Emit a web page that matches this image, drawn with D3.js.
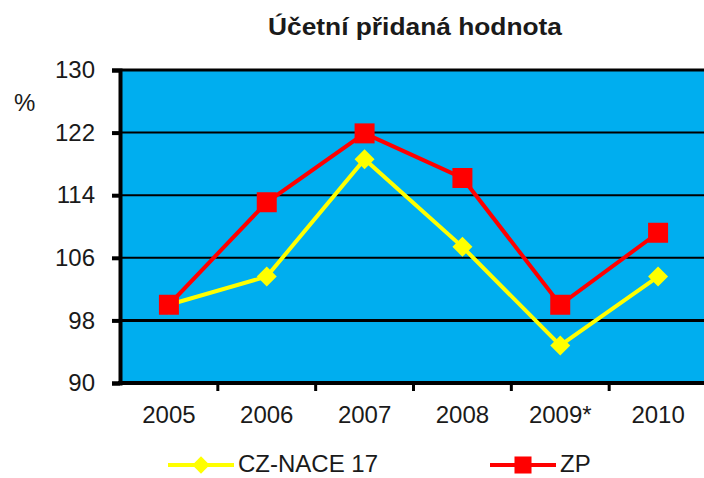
<!DOCTYPE html>
<html>
<head>
<meta charset="utf-8">
<script src="https://cdn.jsdelivr.net/npm/d3@7"></script>
<style>
  body { margin: 0; background: #fff; }
  text { font-family: "Liberation Sans", Arial, sans-serif; fill: #1a1a1a; }
</style>
</head>
<body>
<svg id="chart"></svg>
<script>
const years = ["2005", "2006", "2007", "2008", "2009*", "2010"];
const czNace = [100.0, 103.6, 118.6, 107.4, 94.8, 103.6];
const zp = [100.0, 113.1, 121.9, 116.2, 100.0, 109.2];
const yTicks = [90, 98, 106, 114, 122, 130];

let svg = d3.select("svg#chart")
  .attr("width", 704)
  .attr("height", 478);

const plotLeft = 120, plotRight = 707, plotTop = 70, plotBottom = 383;

const x = d3.scaleBand().domain(years).range([plotLeft, plotRight]);
const y = d3.scaleLinear().domain([90, 130]).range([plotBottom, plotTop]);

// plot background
svg.append("rect").attr("x", plotLeft).attr("y", plotTop)
  .attr("width", plotRight - plotLeft).attr("height", plotBottom - plotTop)
  .attr("fill", "#00AEEF");

// gridlines
svg.append("g").selectAll("line").data(yTicks.filter(d => d > 90)).join("line")
  .attr("x1", plotLeft).attr("x2", plotRight)
  .attr("y1", d => y(d)).attr("y2", d => y(d))
  .attr("stroke", "#000")
  .attr("stroke-width", d => d === 98 ? 3 : (d === 130 ? 3 : 2));

// y axis
const yAxis = svg.append("g").attr("transform", `translate(${plotLeft},0)`)
  .call(d3.axisLeft(y).tickValues(yTicks).tickSize(8).tickPadding(17));
yAxis.select(".domain").attr("stroke", "#000").attr("stroke-width", 4);
yAxis.selectAll(".tick line").attr("stroke", "#000").attr("stroke-width", 4);
yAxis.selectAll(".tick text").attr("font-size", 24).attr("font-family", "Liberation Sans, Arial, sans-serif").attr("fill", "#1a1a1a");

// x axis
const xAxis = svg.append("g").attr("transform", `translate(0,${plotBottom})`)
  .call(d3.axisBottom(x).tickSize(0).tickPadding(23));
xAxis.select(".domain").remove();
xAxis.selectAll(".tick text").attr("font-size", 24).attr("font-family", "Liberation Sans, Arial, sans-serif").attr("fill", "#1a1a1a");
svg.append("line").attr("x1", plotLeft - 2).attr("x2", plotRight).attr("y1", plotBottom).attr("y2", plotBottom)
  .attr("stroke", "#000").attr("stroke-width", 4);
svg.append("g").selectAll("line").data(years.slice(1)).join("line")
  .attr("x1", d => x(d)).attr("x2", d => x(d))
  .attr("y1", plotBottom).attr("y2", plotBottom + 8)
  .attr("stroke", "#000").attr("stroke-width", 3);

const line = d3.line().x((d, i) => x(years[i]) + x.bandwidth() / 2).y(d => y(d));

// CZ-NACE 17
svg.append("path").datum(czNace).attr("d", line)
  .attr("fill", "none").attr("stroke", "#FFFF00").attr("stroke-width", 4);
svg.append("g").selectAll("path").data(czNace).join("path")
  .attr("d", d3.symbol(d3.symbolSquare, 200))
  .attr("transform", (d, i) => `translate(${x(years[i]) + x.bandwidth() / 2},${y(d)}) rotate(45)`)
  .attr("fill", "#FFFF00");

// ZP
svg.append("path").datum(zp).attr("d", line)
  .attr("fill", "none").attr("stroke", "#FF0000").attr("stroke-width", 4);
svg.append("g").selectAll("path").data(zp).join("path")
  .attr("d", d3.symbol(d3.symbolSquare, 400))
  .attr("transform", (d, i) => `translate(${x(years[i]) + x.bandwidth() / 2},${y(d)})`)
  .attr("fill", "#FF0000");

// title
svg.append("text").attr("x", 415).attr("y", 35).attr("text-anchor", "middle")
  .attr("font-size", 23).attr("font-weight", "bold")
  .attr("textLength", 294).attr("lengthAdjust", "spacingAndGlyphs")
  .text("Účetní přidaná hodnota");

svg.append("text").attr("x", 14).attr("y", 111).attr("font-size", 24).text("%");

// legend
const legend = [
  { name: "CZ-NACE 17", color: "#FFFF00", sym: d3.symbol(d3.symbolSquare, 150)(), rot: 45, x0: 168 },
  { name: "ZP", color: "#FF0000", sym: d3.symbol(d3.symbolSquare, 290)(), rot: 0, x0: 490 }
];
const lg = svg.append("g").selectAll("g").data(legend).join("g")
  .attr("transform", d => `translate(${d.x0},465)`);
lg.append("line").attr("x1", 0).attr("x2", 66).attr("stroke", d => d.color).attr("stroke-width", 4);
lg.append("path").attr("d", d => d.sym).attr("transform", d => `translate(33,0) rotate(${d.rot})`).attr("fill", d => d.color);
lg.append("text").attr("x", 70).attr("y", 7).attr("font-size", 24).text(d => d.name);
</script>
</body>
</html>
